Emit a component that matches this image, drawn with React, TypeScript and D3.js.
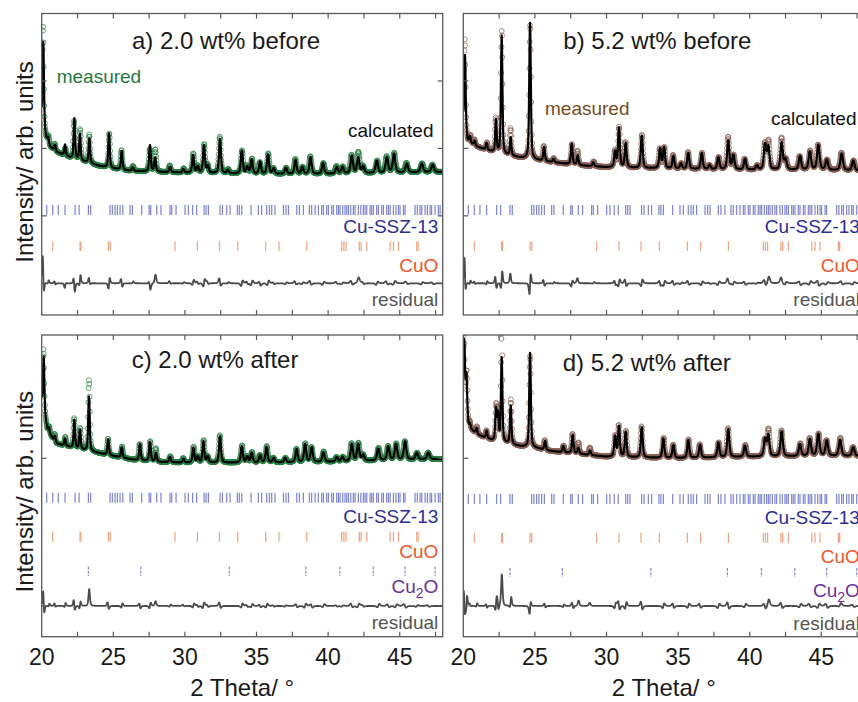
import React from 'react';
import * as d3 from 'd3';

type Peak = [number, number, number, number?];
type Knot = [number, number];

// ---------- axis values ----------
const X_DOMAIN: [number, number] = [20, 48];
const X_TICKS = [22.5, 25, 27.5, 30, 32.5, 35, 37.5, 40, 42.5, 45, 47.5];
const X_TICK_LABELS = [20, 25, 30, 35, 40, 45];
const Y_TICKS_TOP = [0, 100, 200, 300];
const Y_TICKS_BOTTOM = [0, 100];

// ---------- reflection positions (2θ) ----------
const SSZ13_REFLECTIONS = [20.35, 20.77, 21.16, 21.63, 22.33, 22.61, 23.26, 23.42, 24.77, 24.93, 25.12, 25.28,
  25.47, 25.66, 26.17, 26.33, 26.98, 27.5, 27.61, 28.03, 28.33, 28.96, 29.08, 29.38, 30.01, 30.24, 30.54, 30.82,
  31.34, 31.48, 31.64, 32.45, 32.62, 32.92, 33.15, 33.66, 33.8, 33.97, 34.62, 35.13, 35.36, 35.71, 35.9, 36.06,
  36.29, 36.88, 37.06, 37.23, 37.81, 37.99, 38.27, 38.69, 38.85, 39.09, 39.32, 39.55, 39.67, 39.9, 40.02, 40.25,
  40.37, 40.6, 40.72, 40.83, 41.02, 41.18, 41.3, 41.42, 41.58, 41.76, 41.88, 42.11, 42.28, 42.46, 42.58, 42.7,
  42.93, 43.04, 43.16, 43.39, 43.51, 43.74, 43.86, 44.09, 44.21, 44.33, 44.56, 44.74, 44.91, 45.02, 45.26, 45.37,
  46.07, 46.23, 46.42, 46.54, 46.77, 46.93, 47.12, 47.23, 47.47, 47.7, 47.82];
const CUO_REFLECTIONS = [20.77, 22.68, 22.74, 24.66, 24.78, 29.31, 30.87, 32.41, 33.69, 35.64, 36.57, 38.51,
  40.95, 41.1, 41.25, 42.18, 42.3, 42.7, 44.33, 44.56, 44.91, 46.19, 46.28];
const CU2O_REFLECTIONS = [23.26, 26.92, 33.1, 38.44, 40.82, 43.15, 45.37, 47.47];

// ---------- a) 2.0 wt% before ----------
const BACKGROUND_A: Knot[] = [[20, 245], [20.3, 215], [20.6, 202], [21, 195], [22, 186], [23, 180], [24, 174],
  [25, 170], [26, 167], [28, 165], [30, 164], [35, 162], [40, 162], [45, 164], [48, 165]];
// [position, calculated height, measured height, measured shift]
const PEAKS_A: Peak[] = [[20.11, 124, 146, -0.015], [20.45, 7, 10, 0.02], [20.93, 9, 10, -0.02], [21.63, 16, 11, 0.02],
  [22.28, 60, 56, -0.015], [22.67, 39, 46, 0.015], [23.33, 37, 42, -0.01], [24.7, 51, 51, 0.015], [25.59, 28, 29, -0.02],
  [26.35, 5, 7, 0.02], [27.56, 39, 33, -0.015], [27.92, 21, 33, 0.01], [28.96, 8, 10, -0.02], [29.9, 5, 6, 0.02],
  [30.57, 26, 28, 0.015], [30.9, 9, 10, -0.02], [31.33, 41, 42, 0.015], [31.6, 10, 11, -0.02], [32.45, 51, 54, -0.012],
  [33.0, 5, 6, 0.02], [33.97, 34, 34, 0.015], [34.35, 10, 11, -0.02], [34.66, 21, 22, 0.02], [35.25, 18, 17, -0.02],
  [35.8, 29, 30, 0.015], [36.2, 8, 8, -0.02], [37.05, 9, 9, 0.02], [37.72, 21, 22, -0.015], [38.2, 10, 10, 0.02],
  [38.77, 25, 26, -0.015], [39.65, 16, 16, 0.02], [40.6, 10, 11, -0.02], [41.0, 10, 10, 0.02], [41.65, 26, 27, -0.015],
  [42.1, 23, 31, 0.01], [42.45, 10, 10, -0.02], [43.4, 18, 18, 0.02], [44.1, 23, 24, -0.015], [44.6, 28, 29, 0.015],
  [45.49, 13, 14, -0.02], [46.54, 13, 13, 0.02], [47.3, 11, 11, -0.02]];

// ---------- b) 5.2 wt% before ----------
const BACKGROUND_B: Knot[] = [[20, 242], [20.3, 210], [21, 202], [22, 195], [23, 190], [24, 186], [25, 183],
  [26, 180], [28, 175], [30, 172], [35, 169.5], [40, 168], [45, 168], [48, 166.5]];
const PEAKS_B: Peak[] = [[20.12, 109, 131, -0.015], [20.47, 9, 11, 0.02], [20.8, 7, 8, -0.02], [21.63, 10, 11, 0.02],
  [22.28, 48, 50, -0.015], [22.68, 175, 183, 0.006], [23.31, 27, 40, -0.01], [24.66, 202, 200, 0.007],
  [25.64, 21, 22, -0.02], [26.3, 5, 6, 0.02], [27.57, 31, 30, 0.015], [27.99, 14, 21, -0.01], [29.08, 6, 7, 0.02],
  [30.6, 23, 24, -0.015], [30.87, 58, 59, 0.01], [31.34, 36, 37, -0.015], [32.46, 48, 49, 0.012],
  [33.74, 29, 29, -0.015], [34.02, 31, 31, 0.015], [34.67, 19, 20, -0.02], [35.2, 8, 8, 0.02], [35.71, 24, 25, -0.015],
  [36.65, 24, 24, 0.015], [37.2, 6, 6, -0.02], [37.81, 18, 18, 0.02], [38.5, 43, 48, -0.01], [38.86, 21, 21, 0.015],
  [39.67, 16, 16, -0.02], [40.5, 6, 6, 0.02], [41.07, 37, 38, -0.015], [41.3, 33, 42, 0.01], [42.23, 40, 47, -0.01],
  [42.5, 15, 15, 0.02], [43.51, 20, 20, -0.02], [44.2, 27, 28, 0.015], [44.79, 37, 37, -0.015], [45.38, 15, 15, 0.02],
  [46.42, 25, 26, -0.015], [47.23, 15, 15, 0.02]];

// ---------- c) 2.0 wt% after ----------
const BACKGROUND_C: Knot[] = [[20, 139], [20.4, 119], [21, 110], [22, 107.5], [24, 103.5], [25, 101.5],
  [26.4, 99], [28, 97.5], [30, 97], [35, 97], [40, 97.5], [45, 98.8], [48, 99.5]];
const PEAKS_C: Peak[] = [[20.14, 37, 41, -0.015], [20.5, 3, 4, 0.02], [20.93, 4, 5, -0.02], [21.63, 5, 6, 0.02],
  [22.28, 19, 20, -0.015], [22.67, 13, 14, 0.015], [23.3, 37, 48, 0.004], [24.65, 10.6, 11, -0.02],
  [25.59, 7, 7.5, 0.02], [26.86, 11, 11, -0.015], [27.56, 13, 13.5, 0.015], [27.98, 6, 9, -0.01],
  [28.96, 3.6, 4, 0.02], [29.9, 2.5, 3, -0.02], [30.59, 10, 10.5, 0.015], [30.9, 4, 4, -0.02], [31.29, 14.4, 15, 0.015],
  [31.6, 4, 4, -0.02], [32.45, 17.8, 18.5, -0.012], [33.97, 11, 11.5, 0.015], [34.35, 4, 4, -0.02],
  [34.66, 6.6, 7, 0.02], [35.25, 5, 5, -0.02], [35.7, 10.6, 11, 0.015], [36.2, 3, 3, -0.02], [37.0, 3, 3, 0.02],
  [37.8, 8.8, 9, -0.015], [38.39, 12.2, 12.5, 0.015], [38.85, 10, 10, -0.015], [39.67, 6.6, 7, 0.02],
  [40.6, 3, 3, -0.02], [41.0, 3, 3, 0.02], [41.65, 11.5, 12, -0.015], [42.1, 11.5, 12, 0.015], [42.45, 4, 4, -0.02],
  [43.5, 8.1, 8.5, 0.02], [44.2, 9.3, 9.5, -0.015], [44.74, 10.8, 11, 0.015], [45.37, 12.4, 12.5, -0.015],
  [46.19, 4.5, 4.5, 0.02], [47.0, 4.5, 4.5, -0.02]];

// ---------- d) 5.2 wt% after ----------
const BACKGROUND_D: Knot[] = [[20, 143], [20.4, 120.5], [21, 116], [22, 112], [23, 110], [24, 108], [25, 107],
  [26, 105], [28, 103], [30, 101], [35, 100], [40, 101], [45, 101.5], [48, 101.5]];
const PEAKS_D: Peak[] = [[20.07, 40, 44, -0.015], [20.22, 25, 28, 0.015], [20.47, 3, 4, -0.02], [20.93, 4, 5, 0.02],
  [21.63, 5, 5, -0.02], [22.28, 21, 22, 0.015], [22.42, 18, 18, -0.015], [22.68, 57, 78, 0.003], [23.31, 26, 30, 0.01],
  [24.66, 64, 62, 0.006], [25.71, 6, 6.5, -0.02], [26.98, 4.3, 4.5, 0.02], [27.64, 12.5, 13, -0.015],
  [28.03, 4, 7.5, 0.01], [28.85, 3, 5, -0.01], [30.6, 13.7, 14, 0.015], [30.87, 20.5, 21, -0.015],
  [31.34, 17, 17.5, 0.015], [32.46, 20.5, 21, -0.015], [33.97, 13.3, 13.5, 0.015], [34.67, 8.8, 9, -0.02],
  [35.71, 12.2, 12.5, 0.015], [36.53, 8.8, 9, -0.02], [37.81, 10, 10, 0.02], [38.5, 19, 19.5, -0.015],
  [39.67, 7.6, 8, 0.02], [41.07, 11.5, 11, -0.02], [41.3, 14.2, 18.3, 0.01], [42.23, 17, 17.5, -0.015],
  [43.51, 8.1, 8.5, 0.02], [44.2, 11.5, 12, -0.015], [44.79, 14.9, 15, 0.015], [45.38, 10.4, 10.5, -0.02],
  [46.31, 11, 12.2, 0.015], [47.23, 5.9, 6, -0.02]];

// ---------- styling / layout ----------
const FONT = "'Liberation Sans', Arial, Helvetica, sans-serif";
const GREEN = '#2a7f43';
const BROWN = '#876055';

const fwhm = (p: number) => 0.11 + 0.004 * (p - 20);
const profile = (t: number, p: number, w: number) => {
  const u = (t - p) / w;
  const q = 4 * u * u;
  return 0.5 / (1 + q) + 0.5 * Math.exp(-Math.LN2 * q);
};

interface PanelCfg {
  id: string;
  x0: number; x1: number; y0: number; y1: number;
  yDomain: [number, number];
  yTicks: number[];
  bg: Knot[];
  peaks: Peak[];
  obsColor: string;
  title: { text: string; x: number; y: number };
  measured?: { x: number; y: number; color: string };
  calculated?: { x: number; y: number };
  rows: { kind: 'ssz' | 'cuo' | 'cu2o'; top: number; bottom: number; labelY: number }[];
  residualLabelY: number;
  xLabels: boolean;
}

const PANELS: PanelCfg[] = [
  {
    id: 'a', x0: 41.7, x1: 442.7, y0: 13.5, y1: 315, yDomain: [-47, 400], yTicks: Y_TICKS_TOP,
    bg: BACKGROUND_A, peaks: PEAKS_A, obsColor: GREEN,
    title: { text: 'a) 2.0 wt% before', x: 132, y: 48.5 },
    measured: { x: 56.7, y: 83.3, color: '#1f7a3c' },
    calculated: { x: 433.5, y: 136.7 },
    rows: [
      { kind: 'ssz', top: 205, bottom: 215, labelY: 233.3 },
      { kind: 'cuo', top: 241.5, bottom: 251, labelY: 271.7 },
    ],
    residualLabelY: 306, xLabels: false,
  },
  {
    id: 'b', x0: 463.3, x1: 864.3, y0: 13.5, y1: 315, yDomain: [-47, 400], yTicks: Y_TICKS_TOP,
    bg: BACKGROUND_B, peaks: PEAKS_B, obsColor: BROWN,
    title: { text: 'b) 5.2 wt% before', x: 563.3, y: 48.5 },
    measured: { x: 545, y: 115, color: '#7a4b22' },
    calculated: { x: 856.5, y: 125 },
    rows: [
      { kind: 'ssz', top: 205, bottom: 215, labelY: 233.3 },
      { kind: 'cuo', top: 241.5, bottom: 251, labelY: 271.7 },
    ],
    residualLabelY: 306, xLabels: false,
  },
  {
    id: 'c', x0: 41.7, x1: 442.7, y0: 335, y1: 636.7, yDomain: [-20.8, 183.5], yTicks: Y_TICKS_BOTTOM,
    bg: BACKGROUND_C, peaks: PEAKS_C, obsColor: GREEN,
    title: { text: 'c) 2.0 wt% after', x: 131.7, y: 367.5 },
    rows: [
      { kind: 'ssz', top: 492.7, bottom: 502.7, labelY: 523.3 },
      { kind: 'cuo', top: 531.7, bottom: 541.7, labelY: 557.5 },
      { kind: 'cu2o', top: 566.5, bottom: 576, labelY: 593.3 },
    ],
    residualLabelY: 629.3, xLabels: true,
  },
  {
    id: 'd', x0: 463.3, x1: 864.3, y0: 335, y1: 636.7, yDomain: [-20.8, 183.5], yTicks: Y_TICKS_BOTTOM,
    bg: BACKGROUND_D, peaks: PEAKS_D, obsColor: BROWN,
    title: { text: 'd) 5.2 wt% after', x: 562.7, y: 370.5 },
    rows: [
      { kind: 'ssz', top: 494, bottom: 504, labelY: 524 },
      { kind: 'cuo', top: 532.7, bottom: 542.7, labelY: 562.5 },
      { kind: 'cu2o', top: 568, bottom: 577, labelY: 597 },
    ],
    residualLabelY: 630, xLabels: true,
  },
];

const ROW_STYLE = {
  ssz: { list: SSZ13_REFLECTIONS, color: '#7f84cc', label: 'Cu-SSZ-13', labelColor: '#2b2e94', dash: undefined as string | undefined },
  cuo: { list: CUO_REFLECTIONS, color: '#f2a27e', label: 'CuO', labelColor: '#f0562a', dash: undefined as string | undefined },
  cu2o: { list: CU2O_REFLECTIONS, color: '#8589d4', label: 'Cu2O', labelColor: '#6b2fa0', dash: '3,1.2' },
};

function Panel({ cfg }: { cfg: PanelCfg }) {
  const x = d3.scaleLinear().domain(X_DOMAIN).range([cfg.x0, cfg.x1]);
  const y = d3.scaleLinear().domain(cfg.yDomain).range([cfg.y1, cfg.y0]);
  const bg = d3.scaleLinear().domain(cfg.bg.map((d) => d[0])).range(cfg.bg.map((d) => d[1])).clamp(true);

  const calcAt = (t: number) => bg(t) + d3.sum(cfg.peaks, (p) => p[1] * profile(t, p[0], fwhm(p[0])));
  const obsAt = (t: number) => bg(t) + d3.sum(cfg.peaks, (p) => p[2] * profile(t, p[0] + (p[3] || 0), fwhm(p[0])));

  const tLine = d3.range(X_DOMAIN[0], X_DOMAIN[1] + 1e-6, 0.01);
  const calc = tLine.map((t) => [t, calcAt(t)] as [number, number]);
  const resid = tLine.map((t, i) => [t, obsAt(t) - calc[i][1]] as [number, number]);
  const obs = d3.range(X_DOMAIN[0], X_DOMAIN[1] + 1e-6, 0.02).map((t) => [t, obsAt(t)] as [number, number]);

  const line = d3.line<[number, number]>().x((d) => x(d[0])).y((d) => y(d[1]));
  const clipId = `clip-${cfg.id}`;
  const labelRight = cfg.x1 - 4.4;

  return (
    <g>
      <defs>
        <clipPath id={clipId}>
          <rect x={cfg.x0} y={cfg.y0} width={cfg.x1 - cfg.x0} height={cfg.y1 - cfg.y0} />
        </clipPath>
      </defs>
      <g clipPath={`url(#${clipId})`}>
        <g fill="none" stroke={cfg.obsColor} strokeWidth={1} strokeOpacity={0.7}>
          {obs.map((d, i) => (
            <circle key={i} cx={x(d[0])} cy={y(d[1])} r={2.5} />
          ))}
        </g>
        <path d={line(calc) || ''} fill="none" stroke="#000" strokeWidth={2.2} strokeLinejoin="round" />
        <path d={line(resid) || ''} fill="none" stroke="#4a4a4a" strokeWidth={1.8} strokeLinejoin="round" />
        {cfg.rows.map((row) => {
          const st = ROW_STYLE[row.kind];
          return (
            <g key={row.kind} stroke={st.color} strokeWidth={1.2} strokeDasharray={st.dash}>
              {st.list.map((p, i) => (
                <line key={i} x1={x(p)} x2={x(p)} y1={row.top} y2={row.bottom} />
              ))}
            </g>
          );
        })}
      </g>
      {/* frame and ticks */}
      <rect x={cfg.x0} y={cfg.y0} width={cfg.x1 - cfg.x0} height={cfg.y1 - cfg.y0} fill="none" stroke="#5a5a5a" strokeWidth={1.3} />
      <g stroke="#5a5a5a" strokeWidth={1.2}>
        {X_TICKS.map((t) => (
          <g key={t}>
            <line x1={x(t)} x2={x(t)} y1={cfg.y0} y2={cfg.y0 + 5} />
            <line x1={x(t)} x2={x(t)} y1={cfg.y1} y2={cfg.y1 - 5} />
          </g>
        ))}
        {cfg.yTicks.map((t) => (
          <g key={t}>
            <line x1={cfg.x0} x2={cfg.x0 + 5} y1={y(t)} y2={y(t)} />
            <line x1={cfg.x1} x2={cfg.x1 - 5} y1={y(t)} y2={y(t)} />
          </g>
        ))}
      </g>
      {/* texts */}
      <g fontFamily={FONT}>
        <text x={cfg.title.x} y={cfg.title.y} fontSize={24} fill="#1a1a1a">{cfg.title.text}</text>
        {cfg.measured && (
          <text x={cfg.measured.x} y={cfg.measured.y} fontSize={19} fill={cfg.measured.color}>measured</text>
        )}
        {cfg.calculated && (
          <text x={cfg.calculated.x} y={cfg.calculated.y} fontSize={19} fill="#111" textAnchor="end">calculated</text>
        )}
        {cfg.rows.map((row) => {
          const st = ROW_STYLE[row.kind];
          if (row.kind === 'cu2o') {
            return (
              <text key={row.kind} x={labelRight} y={row.labelY} fontSize={19} fill={st.labelColor} textAnchor="end">
                Cu<tspan fontSize={14} dy={5}>2</tspan><tspan dy={-5}>O</tspan>
              </text>
            );
          }
          return (
            <text key={row.kind} x={labelRight} y={row.labelY} fontSize={19} fill={st.labelColor} textAnchor="end">{st.label}</text>
          );
        })}
        <text x={labelRight} y={cfg.residualLabelY} fontSize={19} fill="#555" textAnchor="end">residual</text>
        {cfg.xLabels && (
          <>
            {X_TICK_LABELS.map((v) => (
              <text key={v} x={x(v)} y={664.5} fontSize={23} fill="#1a1a1a" textAnchor="middle">{v}</text>
            ))}
            <text x={(cfg.x0 + cfg.x1) / 2} y={695.5} fontSize={24} fill="#1a1a1a" textAnchor="middle">2 Theta/ °</text>
          </>
        )}
      </g>
    </g>
  );
}

export default function App() {
  return (
    <svg
      width={858}
      height={702}
      viewBox="0 0 858 702"
      style={{ position: 'absolute', left: 0, top: 0, background: '#fff', display: 'block' }}
    >
      <rect x={0} y={0} width={858} height={702} fill="#fff" />
      {PANELS.map((p) => (
        <Panel key={p.id} cfg={p} />
      ))}
      <g fontFamily={FONT} fontSize={24} fill="#1a1a1a">
        <text transform="translate(32.5,162) rotate(-90)" textAnchor="middle">Intensity/ arb. units</text>
        <text transform="translate(32.5,491.7) rotate(-90)" textAnchor="middle">Intensity/ arb. units</text>
      </g>
    </svg>
  );
}
